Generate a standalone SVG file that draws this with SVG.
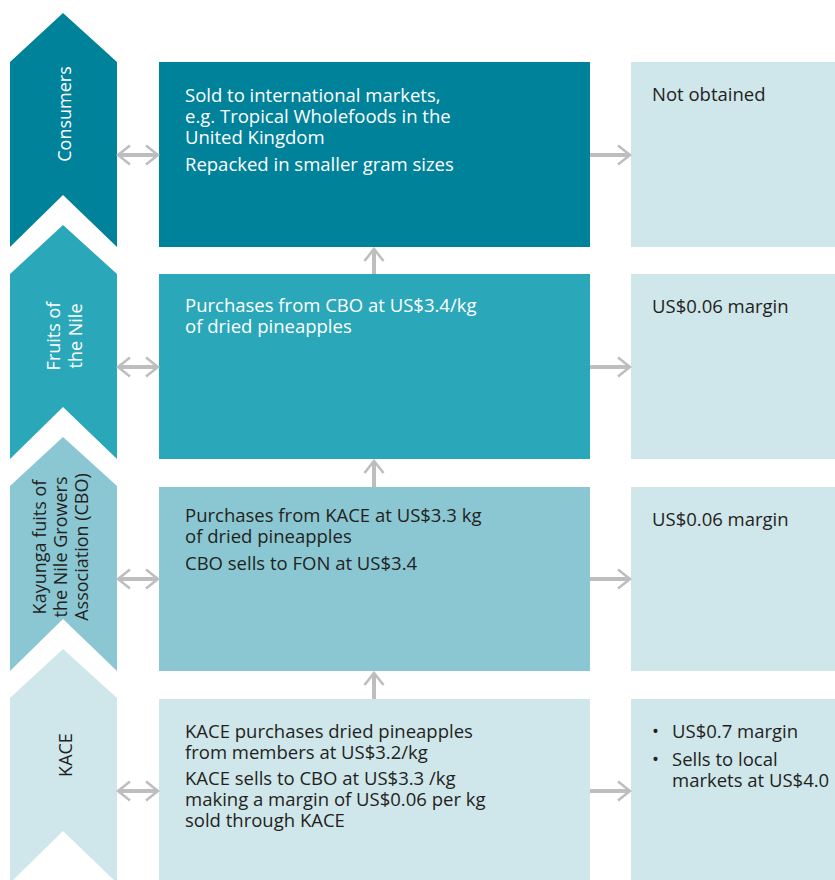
<svg xmlns="http://www.w3.org/2000/svg" width="835" height="880" viewBox="0 0 835 880">
<style>
.c1{fill:#00829B}.c2{fill:#2AA7B8}.c3{fill:#8AC7D2}.c4{fill:#CFE6EB}
.t{font-family:"Open Sans","Liberation Sans",sans-serif;font-size:18.5px}
.v{font-size:18px}
.w{fill:#FFFFFF}.d{fill:#231F20}
.sh{stroke:#BEBEC0;stroke-width:4;fill:none}
</style>
<defs>
<marker id="ah" viewBox="0 0 16 22" refX="14" refY="11" markerWidth="16" markerHeight="22" markerUnits="userSpaceOnUse" orient="auto-start-reverse">
<path d="M2,1.5 L14,11 L2,20.5" fill="none" stroke="#BEBEC0" stroke-width="2.6"/>
</marker>
</defs>
<rect width="835" height="880" fill="#FFFFFF"/>

<g id="consumers">
<polygon class="c1" points="10,62 63,13 117,62 117,247 63,195 10,247"/>
<text class="t v w" transform="translate(0,114) rotate(-90)" text-anchor="middle" x="0" y="71">Consumers</text>
</g>
<g id="fruits-of-the-nile">
<polygon class="c2" points="10,274 63,225 117,274 117,459 63,407 10,459"/>
<text class="t v w" transform="translate(0,336) rotate(-90)" text-anchor="middle"><tspan x="0" y="60">Fruits of</tspan><tspan x="0" y="82">the Nile</tspan></text>
</g>
<g id="cbo">
<polygon class="c3" points="10,486 63,437 117,486 117,671 63,619 10,671"/>
<text class="t v d" transform="translate(0,547) rotate(-90)" text-anchor="middle"><tspan x="0" y="46">Kayunga fuits of</tspan><tspan x="0" y="67">the Nile Growers</tspan><tspan x="0" y="88">Association (CBO)</tspan></text>
</g>
<g id="kace">
<polygon class="c4" points="10,698 63,649 117,698 117,883 63,831 10,883"/>
<text class="t v d" transform="translate(0,755) rotate(-90)" text-anchor="middle" x="0" y="72">KACE</text>
</g>

<g id="box-consumers">
<rect class="c1" x="159" y="62" width="431" height="185"/>
<text class="t w"><tspan x="185" y="102">Sold to international markets,</tspan><tspan x="185" y="123">e.g. Tropical Wholefoods in the</tspan><tspan x="185" y="144">United Kingdom</tspan><tspan x="185" y="171">Repacked in smaller gram sizes</tspan></text>
</g>
<g id="box-fon">
<rect class="c2" x="159" y="274" width="431" height="185"/>
<text class="t w"><tspan x="185" y="312">Purchases from CBO at US$3.4/kg</tspan><tspan x="185" y="333">of dried pineapples</tspan></text>
</g>
<g id="box-cbo">
<rect class="c3" x="159" y="487" width="431" height="184"/>
<text class="t d"><tspan x="185" y="522">Purchases from KACE at US$3.3 kg</tspan><tspan x="185" y="543">of dried pineapples</tspan><tspan x="185" y="570">CBO sells to FON at US$3.4</tspan></text>
</g>
<g id="box-kace">
<rect class="c4" x="159" y="699" width="431" height="181"/>
<text class="t d"><tspan x="185" y="738">KACE purchases dried pineapples</tspan><tspan x="185" y="759">from members at US$3.2/kg</tspan><tspan x="185" y="785">KACE sells to CBO at US$3.3 /kg</tspan><tspan x="185" y="806">making a margin of US$0.06 per kg</tspan><tspan x="185" y="827">sold through KACE</tspan></text>
</g>

<g id="margin-consumers">
<rect class="c4" x="631" y="62" width="204" height="185"/>
<text class="t d" x="652" y="101">Not obtained</text>
</g>
<g id="margin-fon">
<rect class="c4" x="631" y="274" width="204" height="185"/>
<text class="t d" x="652" y="313">US$0.06 margin</text>
</g>
<g id="margin-cbo">
<rect class="c4" x="631" y="487" width="204" height="184"/>
<text class="t d" x="652" y="526">US$0.06 margin</text>
</g>
<g id="margin-kace">
<rect class="c4" x="631" y="699" width="204" height="181"/>
<text class="t d"><tspan x="652" y="738">•</tspan><tspan x="672" y="738">US$0.7 margin</tspan><tspan x="652" y="766">•</tspan><tspan x="672" y="766">Sells to local</tspan><tspan x="672" y="787">markets at US$4.0</tspan></text>
</g>

<g id="connectors">
<path class="sh" d="M118,155 H158" marker-start="url(#ah)" marker-end="url(#ah)"/>
<path class="sh" d="M118,367 H158" marker-start="url(#ah)" marker-end="url(#ah)"/>
<path class="sh" d="M118,579 H158" marker-start="url(#ah)" marker-end="url(#ah)"/>
<path class="sh" d="M118,791 H158" marker-start="url(#ah)" marker-end="url(#ah)"/>
<path class="sh" d="M590,155 H630" marker-end="url(#ah)"/>
<path class="sh" d="M590,367 H630" marker-end="url(#ah)"/>
<path class="sh" d="M590,579 H630" marker-end="url(#ah)"/>
<path class="sh" d="M590,791 H630" marker-end="url(#ah)"/>
<path class="sh" d="M374,274 V249" marker-end="url(#ah)"/>
<path class="sh" d="M374,487 V461" marker-end="url(#ah)"/>
<path class="sh" d="M374,699 V673" marker-end="url(#ah)"/>
</g>
</svg>
